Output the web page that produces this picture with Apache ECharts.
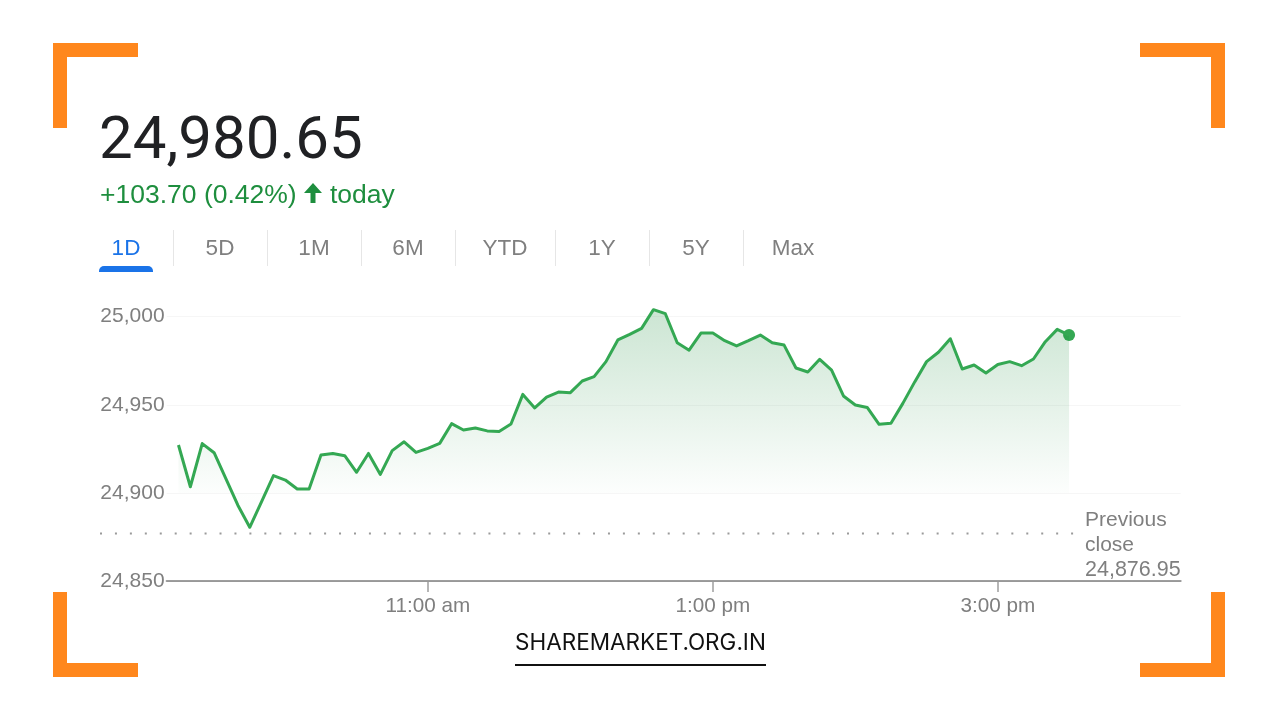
<!DOCTYPE html>
<html lang="en">

<head>
    <meta charset="UTF-8">
    <title>24,980.65</title>
    <script src="https://cdn.jsdelivr.net/npm/echarts@6/dist/echarts.min.js"></script>
    <style>
        html, body { margin: 0; background: #fff; }
        #chart { width: 1280px; height: 720px; }
    </style>
</head>

<body>
    <div id="chart"></div>

    <script>
        // 5 minute closes, 9:15 to 15:30
        const closes = [
            24927.2, 24903.5, 24928, 24922.8, 24908, 24893, 24880.5, 24895, 24909.8, 24907.3,
            24902.2, 24902.2, 24921.5, 24922.4, 24921.1, 24911.7, 24922.4, 24910.5, 24924, 24929,
            24923, 24925.3, 24928.1, 24939.3, 24935.7, 24936.8, 24935.2, 24934.9, 24939.1, 24955.9,
            24948.2, 24954.4, 24957.2, 24956.9, 24963.5, 24966, 24974.5, 24986.8, 24990, 24993.4,
            25004, 25001.7, 24985.2, 24981, 24990.7, 24990.7, 24986.4, 24983.4, 24986.4, 24989.6,
            24985.2, 24983.9, 24970.9, 24968.6, 24975.8, 24969.7, 24955, 24949.9, 24948.5, 24938.9,
            24939.5, 24950.8, 24963, 24974.5, 24979.8, 24987.5, 24970.3, 24972.6, 24968, 24972.9,
            24974.5, 24972.2, 24976, 24985.8, 24992.8, 24989.6
        ];
        const sessionStart = 555; // minutes after midnight
        const stepMinutes = 5;
        const previousClose = 24876.95;
        const previousCloseSpan = [522, 932];

        const timeTicks = [660, 780, 900];
        const timeLabels = ['11:00 am', '1:00 pm', '3:00 pm'];
        const priceTicks = [24850, 24900, 24950, 25000];

        const rangeTabs = ['1D', '5D', '1M', '6M', 'YTD', '1Y', '5Y', 'Max'];
        const tabCentres = [126, 220, 314, 408, 505, 602, 696, 793];
        const tabDividers = [173, 267, 361, 455, 555, 649, 743];

        const GREEN = '#1e8e3e';
        const LINE_GREEN = '#34a853';
        const GREY = '#7f7f7f';
        const ORANGE = '#ff871c';
        const SANS = '"Liberation Sans", Arial, sans-serif';

        const linePoints = closes.map(function (v, i) {
            return [sessionStart + i * stepMinutes, v];
        });
        const lastPoint = linePoints[linePoints.length - 1];

        function text(str, x, y, font, fill, align) {
            return {
                type: 'text',
                x: x,
                y: y,
                style: { text: str, font: font, fill: fill, align: align || 'left', verticalAlign: 'middle' }
            };
        }

        function box(x, y, w, h, fill) {
            return { type: 'rect', shape: { x: x, y: y, width: w, height: h }, style: { fill: fill } };
        }

        // orange corner brackets
        const L = 53, R = 1225, T = 43, B = 677, ARM = 85, W = 14;
        const frame = [
            box(L, T, ARM, W, ORANGE), box(L, T, W, ARM, ORANGE),
            box(R - ARM, T, ARM, W, ORANGE), box(R - W, T, W, ARM, ORANGE),
            box(L, B - W, ARM, W, ORANGE), box(L, B - ARM, W, ARM, ORANGE),
            box(R - ARM, B - W, ARM, W, ORANGE), box(R - W, B - ARM, W, ARM, ORANGE)
        ];

        const tabs = rangeTabs.map(function (name, i) {
            return text(name, tabCentres[i], 249, '22.5px ' + SANS, i === 0 ? '#1a73e8' : GREY, 'center');
        });
        const dividers = tabDividers.map(function (x) {
            return box(x, 230, 1, 36, '#e6e6e6');
        });

        const graphics = frame.concat(tabs, dividers, [
            text('24,980.65', 99, 143, '60px Roboto, sans-serif', '#202124'),
            text('+103.70 (0.42%)', 100, 195.5, '26.5px ' + SANS, GREEN),
            {
                type: 'polygon',
                shape: { points: [[313, 183], [322, 193], [315.5, 193], [315.5, 203], [310.5, 203], [310.5, 193], [304, 193]] },
                style: { fill: GREEN }
            },
            text('today', 330, 195.5, '26.5px ' + SANS, GREEN),
            {
                type: 'rect',
                shape: { x: 99, y: 266, width: 54, height: 6, r: [5, 5, 0, 0] },
                style: { fill: '#1a73e8' }
            },
            text('Previous', 1085, 520, '21px ' + SANS, GREY),
            text('close', 1085, 545.5, '21px ' + SANS, GREY),
            text('24,876.95', 1085, 570, '21.5px ' + SANS, GREY),
            text('SHAREMARKET.ORG.IN', 515, 643, '22.5px Inter, sans-serif', '#111111'),
            box(515, 664, 251, 2, '#111111')
        ]);

        let myChart = echarts.init(document.getElementById('chart'));
        let option = {
            animation: false,
            backgroundColor: '#ffffff',
            graphic: { elements: graphics },
            grid: [
                { left: 166.6, top: 316.7, width: 1014.1, height: 264.3 },
                // the dotted close line starts left of the price labels
                { left: 100, top: 316.7, width: 973.75, height: 264.3 }
            ],
            xAxis: [{
                type: 'value',
                min: 550,
                max: 977,
                splitLine: { show: false },
                axisLine: { show: true, lineStyle: { color: '#9e9e9e', width: 2 } },
                axisTick: {
                    show: true,
                    customValues: timeTicks,
                    length: 11,
                    lineStyle: { color: '#9e9e9e', width: 1.5 }
                },
                axisLabel: {
                    customValues: timeTicks,
                    margin: 15,
                    color: GREY,
                    fontFamily: SANS,
                    fontSize: 20.7,
                    formatter: function (v) {
                        return timeLabels[timeTicks.indexOf(v)];
                    }
                }
            }, {
                type: 'value',
                gridIndex: 1,
                min: previousCloseSpan[0],
                max: previousCloseSpan[1],
                show: false
            }],
            yAxis: [{
                type: 'value',
                min: priceTicks[0],
                max: priceTicks[priceTicks.length - 1],
                interval: 50,
                z: 3,
                axisLine: { show: false },
                axisTick: { show: false },
                splitLine: { lineStyle: { color: 'rgba(0,0,0,0.035)', width: 1 } },
                axisLabel: {
                    margin: 2,
                    padding: [6, 0, 0, 0],
                    color: GREY,
                    fontFamily: SANS,
                    fontSize: 21,
                    formatter: function (v) {
                        return v.toLocaleString('en-US');
                    }
                }
            }, {
                type: 'value',
                gridIndex: 1,
                min: priceTicks[0],
                max: priceTicks[priceTicks.length - 1],
                show: false
            }],
            series: [{
                type: 'line',
                xAxisIndex: 1,
                yAxisIndex: 1,
                data: previousCloseSpan.map(function (t) { return [t, previousClose]; }),
                symbol: 'none',
                silent: true,
                lineStyle: { color: '#9a9a9a', width: 2, type: [2, 12.94] }
            }, {
                type: 'line',
                data: linePoints,
                symbol: 'none',
                clip: false,
                lineStyle: { color: LINE_GREEN, width: 3, join: 'round' },
                areaStyle: {
                    origin: 24900,
                    color: new echarts.graphic.LinearGradient(0, 308, 0, 495, [{
                        offset: 0,
                        color: 'rgba(30,142,62,0.33)'
                    }, {
                        offset: 1,
                        color: 'rgba(30,142,62,0.01)'
                    }], true)
                }
            }, {
                type: 'scatter',
                data: [lastPoint],
                symbolSize: 12,
                clip: false,
                itemStyle: { color: LINE_GREEN, opacity: 1 }
            }]
        };
        myChart.setOption(option);
    </script>

</body>

</html>
